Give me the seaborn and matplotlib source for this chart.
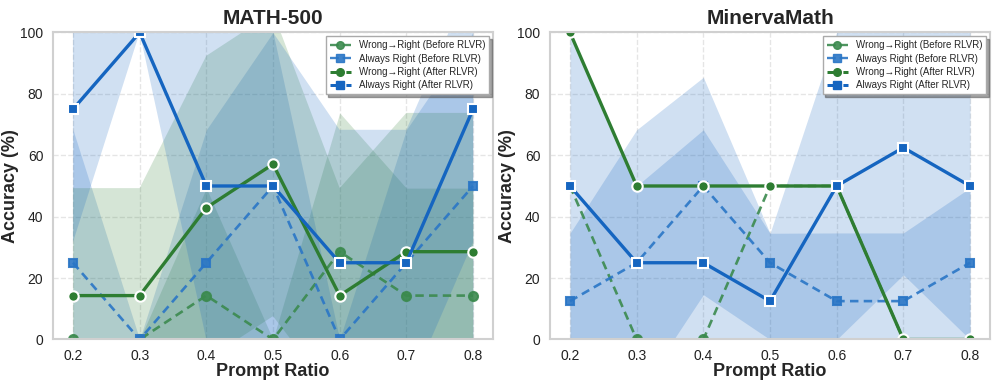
import numpy as np
import pandas as pd
import matplotlib
matplotlib.use("Agg")
import matplotlib.pyplot as plt
from matplotlib.lines import Line2D
import seaborn as sns

sns.set_theme(style="whitegrid")
plt.rcParams['font.family'] = ['Liberation Sans', 'DejaVu Sans']

ratios = [0.2, 0.3, 0.4, 0.5, 0.6, 0.7, 0.8]

# MATH-500: valores médios e faixas (lo/hi)
math_wr_before = [0, 0, 14.3, 0, 28.6, 14.3, 14.3]
math_wr_before_lo = [0, 0, -20.7, 0, -16.6, -20.7, -20.7]
math_wr_before_hi = [0, 0, 49.3, 0, 73.8, 49.3, 49.3]
math_ar_before = [25, 0, 25, 50, 0, 25, 50]
math_ar_before_lo = [-18.3, 0, -18.3, 0, 0, -18.3, 0]
math_ar_before_hi = [68.3, 0, 68.3, 100, 0, 68.3, 100]
math_wr_after = [14.3, 14.3, 42.9, 57.1, 14.3, 28.6, 28.6]
math_wr_after_lo = [-20.7, -20.7, -6.6, 7.6, -20.7, -16.6, -16.6]
math_wr_after_hi = [49.3, 49.3, 92.4, 106.6, 49.3, 73.8, 73.8]
math_ar_after = [75, 100, 50, 50, 25, 25, 75]
math_ar_after_lo = [31.7, 100, 0, 0, -18.3, -18.3, 31.7]
math_ar_after_hi = [118.3, 100, 100, 100, 68.3, 68.3, 118.3]

# MinervaMath (sem faixas para as curvas verdes)
mm_wr_before = [50, 0, 0, 50, 50, 0, 0]
mm_wr_before_lo = mm_wr_before
mm_wr_before_hi = mm_wr_before
mm_ar_before = [12.5, 25, 50, 25, 12.5, 12.5, 25]
mm_ar_before_lo = [-9.6, -18.3, 14.6, 0, -9.7, -9.7, 0.6]
mm_ar_before_hi = [34.6, 68.3, 85.4, 34.6, 34.7, 34.7, 49.4]
mm_wr_after = [100, 50, 50, 50, 50, 0, 0]
mm_wr_after_lo = mm_wr_after
mm_wr_after_hi = mm_wr_after
mm_ar_after = [50, 25, 25, 12.5, 50, 62.5, 50]
mm_ar_after_lo = [0, 0, -18.3, -9.6, 0, 21.1, 0]
mm_ar_after_hi = [100, 50, 68.3, 34.6, 100, 103.9, 100]

labels = ['Wrong→Right (Before RLVR)', 'Always Right (Before RLVR)',
          'Wrong→Right (After RLVR)', 'Always Right (After RLVR)']

green = '#2e7d32'
blue = '#1565c0'
green_b = '#3b8a4e'
blue_b = '#2a76c6'

panels = [
    ('MATH-500', [
        (math_wr_before, math_wr_before_lo, math_wr_before_hi),
        (math_ar_before, math_ar_before_lo, math_ar_before_hi),
        (math_wr_after, math_wr_after_lo, math_wr_after_hi),
        (math_ar_after, math_ar_after_lo, math_ar_after_hi)]),
    ('MinervaMath', [
        (mm_wr_before, mm_wr_before_lo, mm_wr_before_hi),
        (mm_ar_before, mm_ar_before_lo, mm_ar_before_hi),
        (mm_wr_after, mm_wr_after_lo, mm_wr_after_hi),
        (mm_ar_after, mm_ar_after_lo, mm_ar_after_hi)]),
]

styles = [
    dict(color=green_b, marker='o', dashed=True, linewidth=1.9, markersize=6.5, alpha=0.9,
         markeredgecolor=green_b, fill=green),
    dict(color=blue_b, marker='s', dashed=True, linewidth=1.9, markersize=6, alpha=0.9,
         markeredgecolor=blue_b, fill=blue),
    dict(color=green, marker='o', dashed=False, linewidth=2.4, markersize=7.5, alpha=1.0,
         markeredgecolor='white', fill=green),
    dict(color=blue, marker='s', dashed=False, linewidth=2.4, markersize=7, alpha=1.0,
         markeredgecolor='white', fill=blue),
]

fig = plt.figure(figsize=(9.96, 3.83), dpi=100)
axes = [fig.add_axes([0.0532, 0.1136, 0.4418, 0.8016]),
        fig.add_axes([0.5522, 0.1136, 0.4418, 0.8016])]

for ax, (title, series) in zip(axes, panels):
    # faixas
    for (vals, lo, hi), st in zip(series, styles):
        ax.fill_between(ratios, lo, hi, color=st['fill'], alpha=0.2, linewidth=0)
    # linhas
    for (vals, lo, hi), st in zip(series, styles):
        df = pd.DataFrame({'ratio': ratios, 'acc': vals})
        sns.lineplot(data=df, x='ratio', y='acc', ax=ax, color=st['color'],
                     marker=st['marker'], linewidth=st['linewidth'],
                     markersize=st['markersize'],
                     markeredgecolor=st['markeredgecolor'], markeredgewidth=1.5,
                     alpha=st['alpha'])
        if st['dashed']:
            ax.lines[-1].set_dashes((3.2, 2.0))
    ax.set_xlim(0.17, 0.83)
    ax.set_ylim(0, 100)
    ax.set_xticks(ratios)
    ax.set_xticklabels([f'{r:.1f}' for r in ratios])
    ax.set_yticks([0, 20, 40, 60, 80, 100])
    ax.tick_params(axis='both', labelsize=10, colors='#222222', pad=1)
    ax.set_title(title, fontsize=15, fontweight='bold', pad=6)
    ax.set_xlabel('Prompt Ratio', fontsize=13, fontweight='bold', labelpad=0)
    ax.set_ylabel('Accuracy (%)', fontsize=13, fontweight='bold', labelpad=1)
    ax.grid(True, linestyle='--', alpha=0.5)
    for sp in ax.spines.values():
        sp.set_color('#d0d0d0')
        sp.set_linewidth(1.5)
    handles = []
    for st in styles:
        h = Line2D([0], [0], color=st['color'], marker=st['marker'],
                   linewidth=st['linewidth'] * 0.9, markersize=5.5,
                   linestyle='--', alpha=st['alpha'],
                   markeredgecolor=st['color'])
        handles.append(h)
    leg = ax.legend(handles, labels, loc='upper right', fontsize=7, frameon=True,
                    fancybox=False, shadow=True, borderaxespad=0.4,
                    handlelength=2.2, labelspacing=0.35, borderpad=0.4)
    leg.get_frame().set_edgecolor('#aaaaaa')

fig.savefig('out.png', dpi=100)
